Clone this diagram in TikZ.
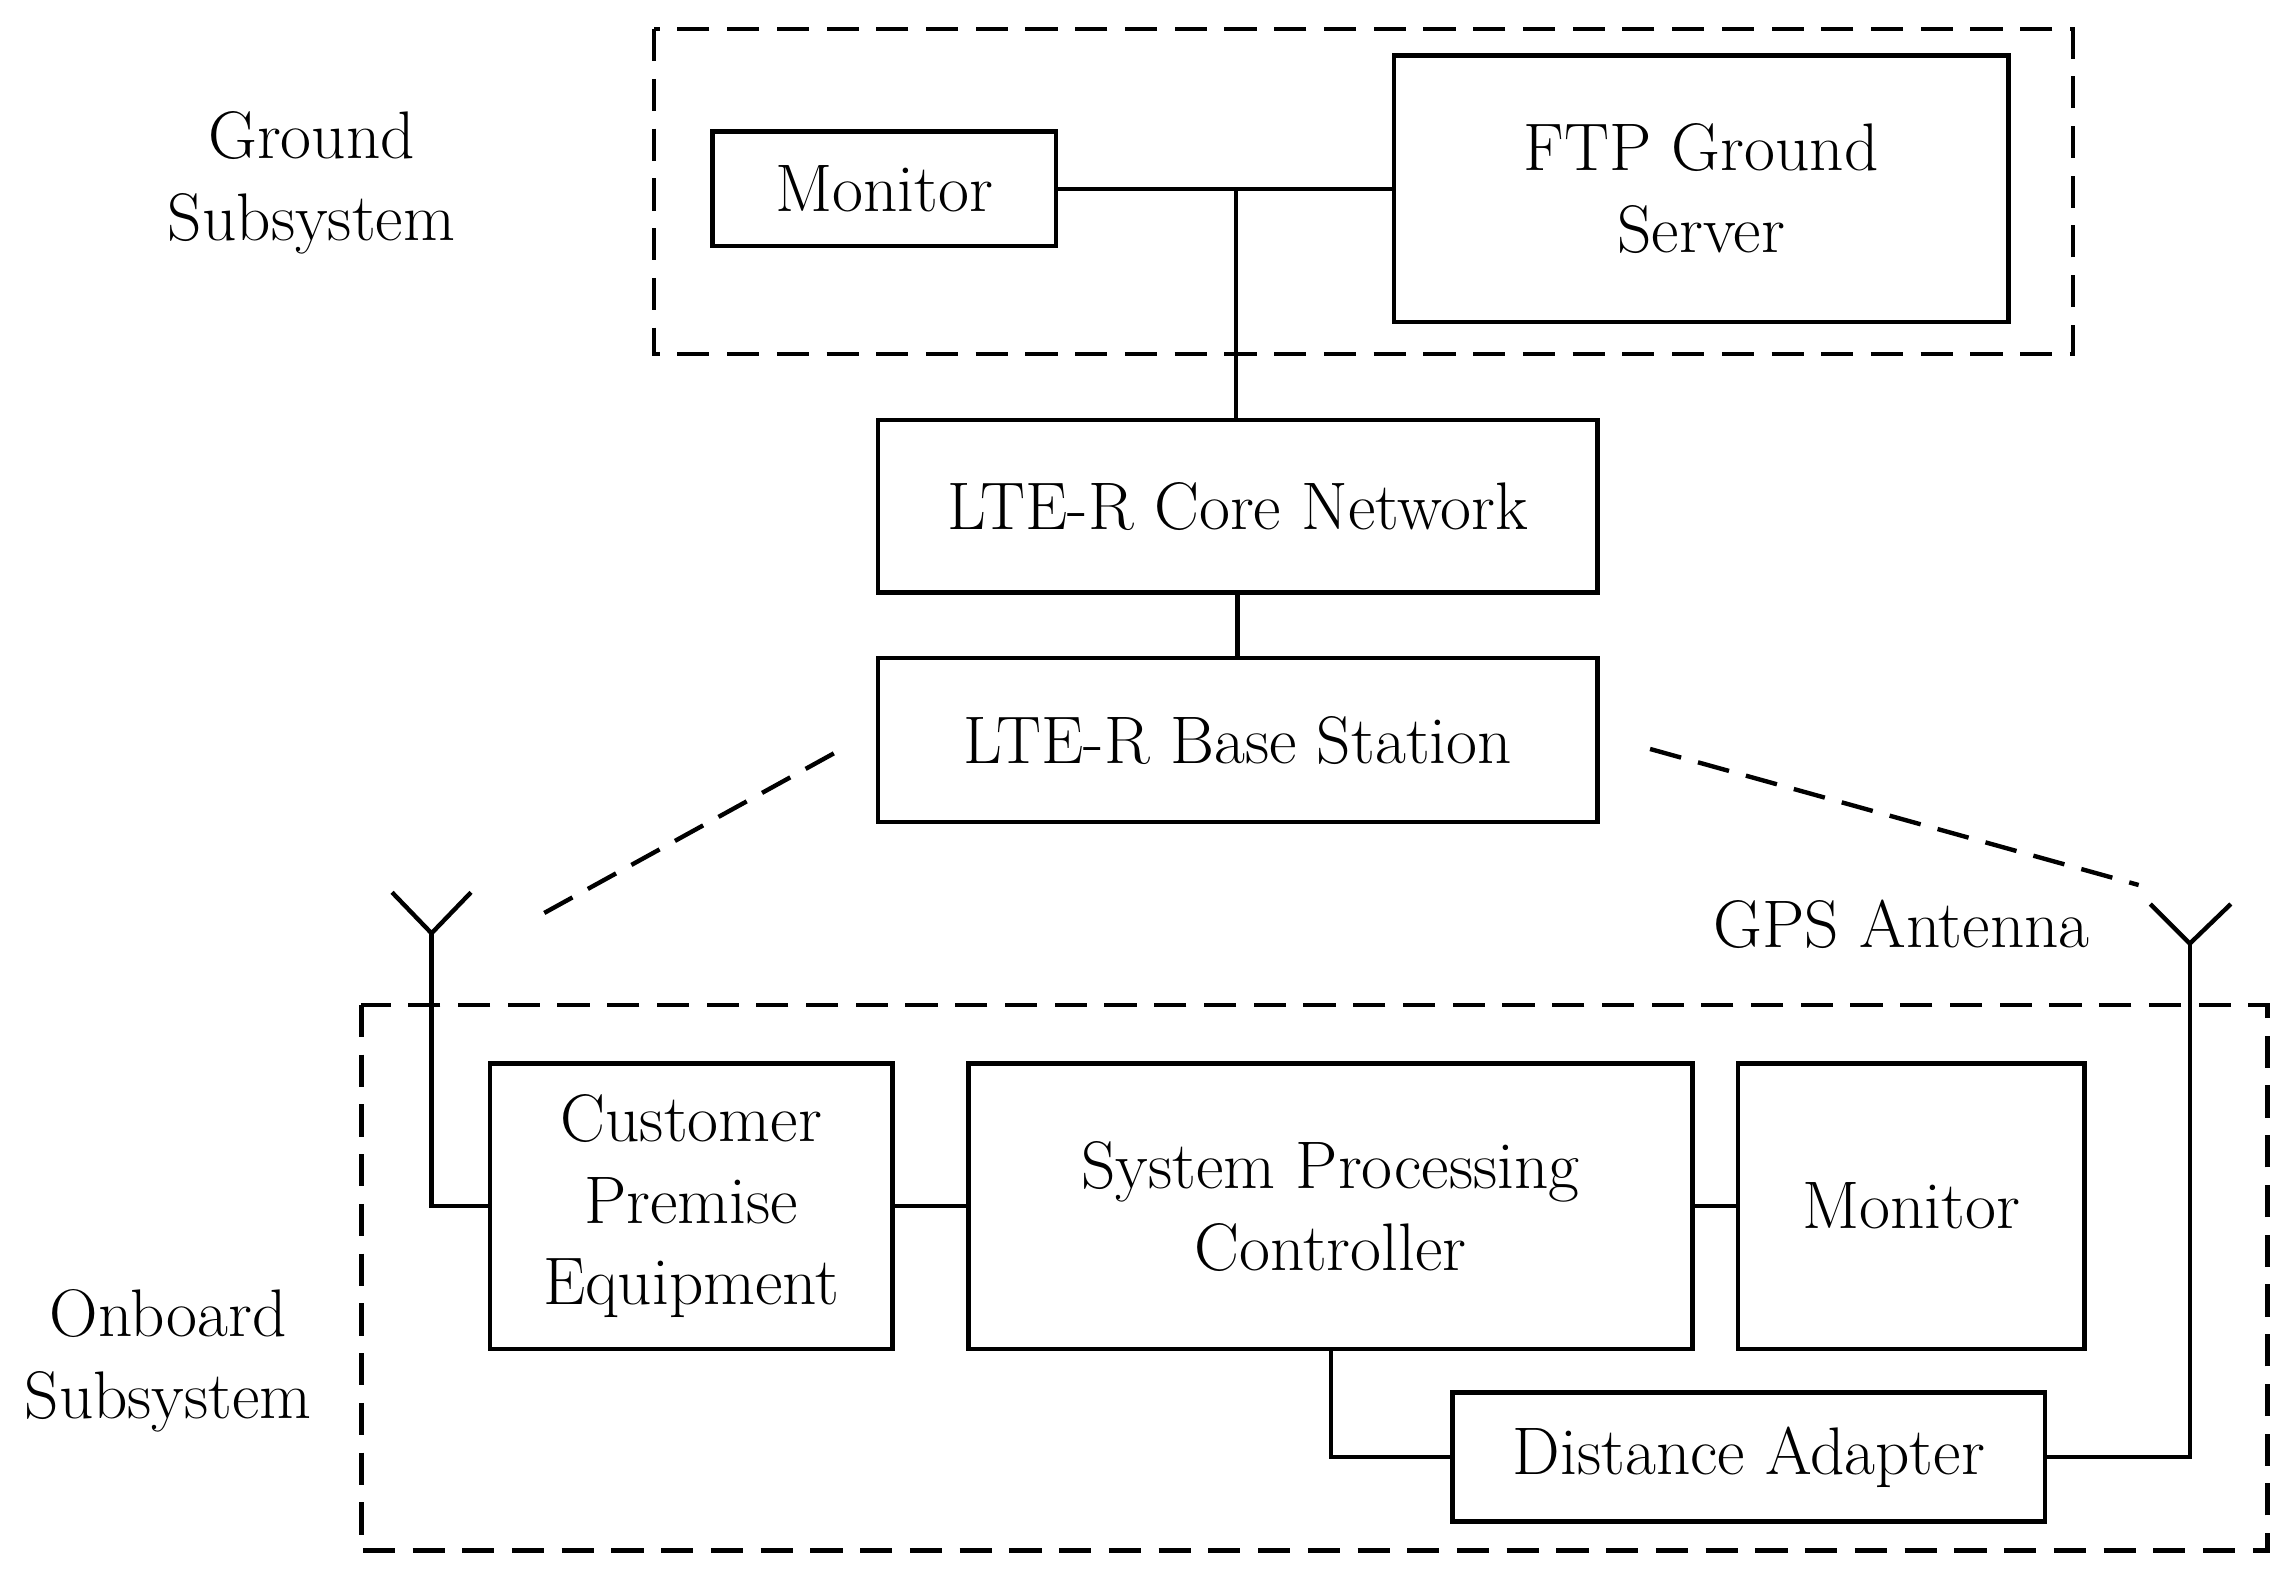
\documentclass[tikz,border=0pt]{standalone}
\begin{document}
\begin{tikzpicture}[x=1pt,y=-1pt,
  every node/.style={font=\fontsize{46}{56}\selectfont, align=center},
  box/.style={draw, line width=3pt, inner sep=0pt},
  ln/.style={line width=3pt},
  dsh/.style={line width=3pt, dash pattern=on 22pt off 12pt}]
\useasboundingbox (0,0) rectangle (1560,1078);
\draw[dsh] (447,20) rectangle (1417,242);
\draw[dsh] (247,687) rectangle (1550,1060);
\node[box, minimum width=235pt, minimum height=78pt] (mon) at (604.5,129) {Monitor};
\node[box, minimum width=420pt, minimum height=182pt] (ftp) at (1163,129) {FTP Ground\\Server};
\node[box, minimum width=492pt, minimum height=118pt] (core) at (846,346) {LTE-R Core Network};
\node[box, minimum width=492pt, minimum height=112pt] (base) at (846,506) {LTE-R Base Station};
\node[box, minimum width=275pt, minimum height=195pt] (cpe) at (472.5,824.5) {Customer\\Premise\\Equipment};
\node[box, minimum width=495pt, minimum height=195pt] (spc) at (909.5,824.5) {System Processing\\Controller};
\node[box, minimum width=237pt, minimum height=195pt] (mon2) at (1306.5,824.5) {Monitor};
\node[box, minimum width=405pt, minimum height=88pt] (da) at (1195.5,996) {Distance Adapter};
\node at (213,125) {Ground\\Subsystem};
\node at (115,930) {Onboard\\Subsystem};
\node at (1300,632) {GPS Antenna};
\coordinate (j) at (845,129);
\draw[ln] (mon.east) -- (ftp.west);
\draw[ln] (j) -- (j |- core.north);
\draw[ln] (core.south) -- (base.north);
\coordinate (a1) at (295,638);
\coordinate (a2) at (1497,645);
\draw[ln] (268,610) -- (a1) -- (322,610);
\draw[ln] (1470,618) -- (a2) -- (1525,618);
\draw[ln] (a1) -- (a1 |- cpe.west) -- (cpe.west);
\draw[ln] (a2) -- (a2 |- da.east) -- (da.east);
\draw[ln] (cpe.east) -- (spc.west);
\draw[ln] (spc.east) -- (mon2.west);
\draw[ln] (910,922) -- (910,996) -- (da.west);
\draw[dsh] (570,515) -- (365,628);
\draw[dsh] (1128,512) -- (1462,605);
\end{tikzpicture}
\end{document}
